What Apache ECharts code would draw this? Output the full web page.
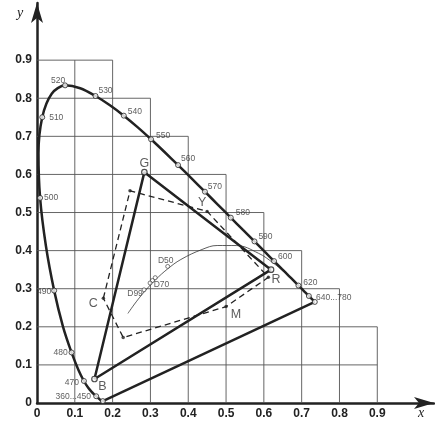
<!DOCTYPE html>
<html><head><meta charset="utf-8">
<script src="https://cdn.jsdelivr.net/npm/echarts@6/dist/echarts.min.js"></script>
<style>html,body{margin:0;padding:0;background:#fff}#c{width:435px;height:429px}</style>
</head><body><div id="c"></div>
<script>
// Spectral locus (CIE 1931 2°), wavelength nm -> x, y
const locusWl = [380,400,420,430,440,445,450,455,460,465,470,475,480,485,490,495,500,505,510,515,520,525,530,535,540,545,550,555,560,565,570,575,580,585,590,595,600,605,610,615,620,625,630,635,640,645,650,660,670,680,700];
const locusX = [0.1741,0.1733,0.1714,0.1689,0.1644,0.1611,0.1566,0.1510,0.1440,0.1355,0.1241,0.1096,0.0913,0.0687,0.0454,0.0235,0.0082,0.0039,0.0139,0.0389,0.0743,0.1142,0.1547,0.1929,0.2296,0.2658,0.3016,0.3373,0.3731,0.4087,0.4441,0.4788,0.5125,0.5448,0.5752,0.6029,0.6270,0.6482,0.6658,0.6801,0.6915,0.7006,0.7079,0.7140,0.7190,0.7230,0.7260,0.7300,0.7320,0.7334,0.7347];
const locusY = [0.0050,0.0048,0.0051,0.0069,0.0109,0.0138,0.0177,0.0227,0.0297,0.0399,0.0578,0.0868,0.1327,0.2007,0.2950,0.4127,0.5384,0.6548,0.7502,0.8120,0.8338,0.8262,0.8059,0.7816,0.7543,0.7243,0.6923,0.6589,0.6245,0.5896,0.5547,0.5202,0.4866,0.4544,0.4242,0.3965,0.3725,0.3514,0.3340,0.3197,0.3083,0.2993,0.2920,0.2859,0.2809,0.2770,0.2740,0.2700,0.2680,0.2666,0.2653];
// marked wavelengths and their labels
const markWl =    [380, 450, 470, 480, 490, 500, 510, 520, 530, 540, 550, 560, 570, 580, 590, 600, 620, 640, 700];
const markText =  ['', '360...450','470','480','490','500','510','520','530','540','550','560','570','580','590','600','620','','640...780'];
// Planckian locus
const planckX = [0.2404,0.2457,0.2525,0.2637,0.2807,0.2952,0.3135,0.3450,0.3805,0.4366,0.4765,0.5269,0.5857,0.6251,0.6528];
const planckY = [0.2351,0.2427,0.2523,0.2673,0.2883,0.3048,0.3237,0.3516,0.3767,0.4030,0.4134,0.4133,0.3931,0.3673,0.3444];
// Daylight points
const dX = [0.3457,0.3127,0.3053,0.2990,0.2831];
const dY = [0.3585,0.3290,0.3215,0.3150,0.2971];
const dText = ['D50','','D70','','D99'];
// RGB triangle (monitor primaries)
const rgbNames = ['R','G','B'];
const rgbX = [0.619, 0.284, 0.152];
const rgbY = [0.350, 0.606, 0.063];
// CMY printing gamut hexagon
const cmyX = [0.1755, 0.246, 0.450, 0.612, 0.500, 0.228];
const cmyY = [0.275, 0.557, 0.503, 0.330, 0.253, 0.172];
const cmyText = ['C','','Y','','M',''];
// axis ticks
const ticks = [0.1,0.2,0.3,0.4,0.5,0.6,0.7,0.8,0.9];
const gridExtent = [0.9,0.9,0.8,0.7,0.6,0.5,0.4,0.3,0.2];

const dark = '#222';
const lblFont = 'Liberation Sans';
// label offsets (styling)
const wlOffset = {380:[0,0],450:[-23,0],470:[-12,2],480:[-11,0],490:[-10,1],500:[11,0],510:[14,0],520:[-7,-5],530:[10,-5],540:[11,-4],550:[12,-4],560:[10,-6],570:[10,-5],580:[12,-5],590:[11,-5],600:[11,-4],620:[12,-3],640:[0,0],700:[19,-4]};
const letterOffset = {R:[5,10],G:[0,-9],B:[8,8],C:[-10,5],Y:[-5,-9],M:[10,8]};
const dOffset = {D50:[-2,-6],D70:[9,4],D99:[-9,4]};

const series = [];
// stepped grid
ticks.forEach((t,i)=>{
  series.push({type:'line',silent:true,symbol:'none',z:1,animation:false,
    lineStyle:{color:'#555',width:0.9},data:[[t,0],[t,gridExtent[i]]]});
  series.push({type:'line',silent:true,symbol:'none',z:1,animation:false,
    lineStyle:{color:'#555',width:0.9},data:[[0,t],[gridExtent[i],t]]});
});
// Planckian locus
series.push({type:'line',symbol:'none',smooth:0.4,z:3,animation:false,
  lineStyle:{color:'#333',width:0.8},data:planckX.map((x,i)=>[x,planckY[i]])});
// spectral locus
series.push({type:'line',symbol:'none',smooth:0.3,z:4,animation:false,
  lineStyle:{color:dark,width:2.5},data:locusX.map((x,i)=>[x,locusY[i]])});
// purple line
const n = locusX.length-1;
series.push({type:'line',symbol:'none',z:4,animation:false,
  lineStyle:{color:dark,width:2.5},data:[[locusX[n],locusY[n]],[locusX[0],locusY[0]]]});
// RGB triangle
series.push({type:'line',symbol:'none',z:4,animation:false,
  lineStyle:{color:dark,width:2.5},data:[0,1,2,0].map(i=>[rgbX[i],rgbY[i]])});
// CMY hexagon
series.push({type:'line',symbol:'none',z:4,animation:false,
  lineStyle:{color:dark,width:1.3,type:[6,4]},data:[0,1,2,3,4,5,0].map(i=>[cmyX[i],cmyY[i]])});
// hexagon markers + labels
series.push({type:'scatter',z:6,animation:false,symbol:'circle',symbolSize:3.5,
  itemStyle:{color:dark},
  data:cmyX.map((x,i)=>({value:[x,cmyY[i]],label:{show:!!cmyText[i],formatter:cmyText[i],
    position:'inside',offset:letterOffset[cmyText[i]]||[0,0]}})),
  label:{color:'#333',fontSize:12.5,fontFamily:lblFont}});
// wavelength markers
series.push({type:'scatter',z:6,animation:false,symbol:'circle',symbolSize:5,
  itemStyle:{color:'#fff',borderColor:dark,borderWidth:1},
  data:markWl.map((w,i)=>{const k=locusWl.indexOf(w);return {value:[locusX[k],locusY[k]],
    label:{show:!!markText[i],formatter:markText[i],position:'inside',offset:wlOffset[w]}};}),
  label:{color:'#333',fontSize:8.5,fontFamily:lblFont}});
// RGB markers
series.push({type:'scatter',z:7,animation:false,symbol:'circle',symbolSize:5.5,
  itemStyle:{color:'#fff',borderColor:dark,borderWidth:1.2},
  data:rgbX.map((x,i)=>({value:[x,rgbY[i]],label:{show:true,formatter:rgbNames[i],
    position:'inside',offset:letterOffset[rgbNames[i]]}})),
  label:{color:'#333',fontSize:12.5,fontFamily:lblFont}});
// daylight markers
series.push({type:'scatter',z:6,animation:false,symbol:'circle',symbolSize:4,
  itemStyle:{color:'#fff',borderColor:'#333',borderWidth:0.8},
  data:dX.map((x,i)=>({value:[x,dY[i]],label:{show:!!dText[i],formatter:dText[i],
    position:'inside',offset:dOffset[dText[i]]||[0,0]}})),
  label:{color:'#333',fontSize:8.5,fontFamily:lblFont}});

const axisFmt = v => v > 0.95 ? '' : (v === 0 ? '0' : v.toFixed(1));
const axisCommon = {type:'value',min:0,max:1.05,interval:0.1,
  splitLine:{show:false},axisTick:{show:false},
  axisLine:{show:true,lineStyle:{color:dark,width:2.5},symbol:['none','arrow'],symbolSize:[9,20]},
  axisLabel:{formatter:axisFmt,color:dark,fontSize:12,fontWeight:'bold',fontFamily:lblFont,margin:5,showMaxLabel:false}};

const chart = echarts.init(document.getElementById('c'),null,{renderer:'canvas'});
chart.setOption({
  animation:false,
  grid:{left:37,top:3,width:397,height:400},
  xAxis:Object.assign({},axisCommon),
  yAxis:Object.assign({},axisCommon),
  graphic:[
    {type:'text',left:17,top:6,style:{text:'y',font:'italic 14px "Liberation Serif"',fill:dark}},
    {type:'text',left:418,top:406,style:{text:'x',font:'italic 14px "Liberation Serif"',fill:dark}}
  ],
  series:series
});
</script></body></html>
